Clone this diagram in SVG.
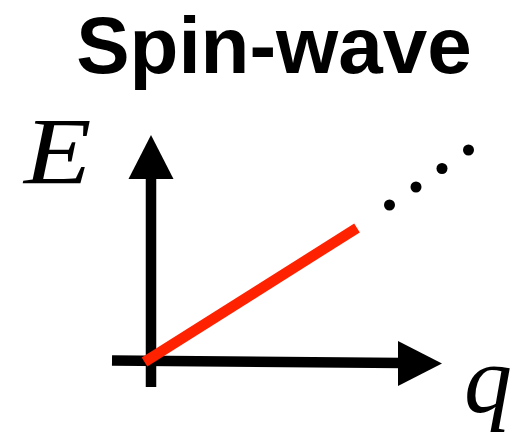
<svg xmlns="http://www.w3.org/2000/svg" width="526" height="435" viewBox="0 0 526 435">
<style>
.title{font-family:"Liberation Sans",Arial,sans-serif;font-weight:bold;font-size:80px;fill:#000}
.math{font-family:"Liberation Serif","Times New Roman",serif;font-style:italic;font-size:96px;fill:#000}
.axis{stroke:#000;stroke-width:10.5;fill:none}
.dot{fill:#000}
</style>
<rect width="526" height="435" fill="#fff"/>
<g id="title"><text class="title" x="274" y="73" text-anchor="middle">Spin-wave</text></g>
<g id="axes">
<line class="axis" x1="151" y1="176" x2="151" y2="387"/>
<polygon points="151,135 128.5,179 173.5,179" fill="#000"/>
<line class="axis" x1="112" y1="360.5" x2="402" y2="363"/>
<polygon points="442,363.5 398,341 398,386" fill="#000"/>
</g>
<g id="labels">
<text class="math" transform="translate(24,184) scale(1.15,1)" x="0" y="0">E</text>
<text class="math" x="464" y="412">q</text>
</g>
<g id="curve">
<line x1="144.5" y1="362" x2="357" y2="228" stroke="#ff2200" stroke-width="10.5"/>
</g>
<g id="dots">
<circle class="dot" cx="389.5" cy="205" r="5.5"/>
<circle class="dot" cx="416" cy="187" r="5.5"/>
<circle class="dot" cx="442" cy="168.5" r="5.5"/>
<circle class="dot" cx="468.5" cy="150" r="5.5"/>
</g>
</svg>
